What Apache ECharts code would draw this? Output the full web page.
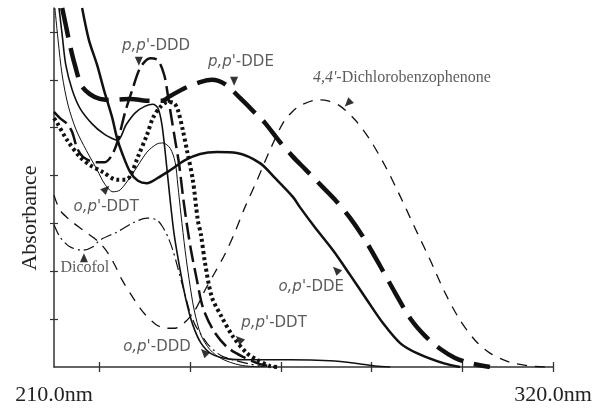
<!DOCTYPE html>
<html>
<head>
<meta charset="utf-8">
<script src="https://cdn.jsdelivr.net/npm/echarts@6/dist/echarts.min.js"></script>
<style>
html,body{margin:0;padding:0;background:#fff;}
#chart{width:608px;height:409px;}
</style>
</head>
<body>
<div id="chart"></div>
<script>
// Wavelength (nm) / absorbance pairs
const ppDDD = [[210.0,5.33],[211.3,5.20],[212.9,5.08],[214.0,4.91],[215.1,4.57],[216.4,4.39],[219.0,4.28],[221.2,4.28],[222.8,4.43],[224.1,4.74],[225.7,5.33],[227.4,5.83],[229.0,6.25],[231.2,6.45],[232.9,6.41],[234.3,6.10],[235.1,5.68],[235.8,5.26],[236.7,4.74],[237.6,4.22],[238.4,3.59],[239.3,2.97],[240.2,2.44],[241.5,1.82],[242.8,1.25],[245.1,0.77],[248.1,0.42],[251.7,0.21],[255.4,0.06],[258.7,0]];
const ppDDE = [[211.8,7.5],[212.6,7.14],[213.5,6.73],[214.6,6.31],[216.0,5.89],[217.9,5.70],[220.1,5.60],[222.3,5.58],[226.8,5.60],[231.2,5.56],[233.8,5.56],[235.6,5.66],[238.9,5.83],[242.2,5.95],[244.8,6.00],[247.7,5.91],[251.0,5.62],[254.3,5.31],[256.5,5.10],[259.8,4.70],[262.7,4.39],[265.3,4.14],[268.6,3.82],[272.0,3.49],[275.3,3.11],[278.6,2.65],[281.9,2.11],[285.2,1.55],[288.5,1.02],[291.8,0.65],[295.1,0.38],[298.4,0.19],[301.7,0.08],[306.1,0]];
const dcbp = [[210.0,3.59],[211.3,3.28],[213.5,3.07],[216.4,2.86],[219.9,2.61],[221.9,2.38],[223.4,2.13],[225.0,1.82],[227.2,1.48],[229.6,1.15],[232.3,0.90],[234.5,0.81],[236.7,0.81],[238.9,0.94],[241.1,1.19],[243.3,1.61],[245.5,1.98],[247.7,2.36],[249.9,2.82],[252.1,3.34],[254.8,3.91],[257.6,4.53],[260.5,5.10],[262.7,5.35],[264.9,5.49],[268.0,5.58],[270.4,5.56],[273.1,5.45],[276.4,5.16],[279.7,4.74],[283.0,4.20],[286.3,3.57],[289.6,2.90],[292.9,2.24],[296.2,1.55],[299.5,0.98],[302.8,0.56],[306.1,0.29],[310.5,0.10],[314.9,0.02],[318.2,0]];
const opDDT = [[210.2,7.5],[210.9,6.83],[211.8,6.10],[213.1,5.47],[214.9,4.95],[217.1,4.53],[219.5,4.12],[221.2,3.82],[223.0,3.66],[224.6,3.70],[227.4,4.05],[230.5,4.49],[232.7,4.66],[234.0,4.68],[235.6,4.57],[236.7,4.28],[237.3,3.80],[238.0,3.18],[238.9,2.44],[239.8,1.82],[240.9,1.19],[242.4,0.67],[244.4,0.36],[247.0,0.17],[251.0,0.04],[255.4,0]];
const dicofol = [[210.0,2.97],[211.3,2.72],[213.5,2.51],[216.4,2.44],[218.6,2.51],[220.1,2.65],[223.9,2.82],[227.4,3.01],[230.5,3.11],[232.7,3.07],[234.0,2.92],[235.1,2.72],[236.2,2.44],[237.3,2.07],[238.2,1.75],[239.1,1.44],[240.0,1.13],[241.1,0.88],[242.2,0.71],[243.7,0.50],[245.1,0.36],[247.0,0.23],[249.5,0.15],[253.2,0.06],[256.5,0]];
const opDDE = [[216.2,7.50],[217.7,6.83],[219.5,6.31],[221.0,5.79],[222.8,5.22],[223.9,4.78],[225.0,4.47],[226.8,4.07],[228.5,3.89],[230.5,3.84],[232.9,3.95],[235.6,4.11],[238.9,4.32],[242.2,4.45],[245.9,4.49],[250.3,4.47],[255.4,4.26],[258.7,3.95],[262.7,3.55],[264.2,3.34],[267.5,2.92],[271.5,2.44],[275.3,1.92],[279.0,1.40],[282.5,0.92],[286.3,0.50],[290.0,0.29],[295.8,0.08],[299.5,0.0]];
const ppDDT = [[210.0,5.20],[210.7,5.10],[212.9,4.74],[215.7,4.39],[217.9,4.22],[220.8,4.07],[223.9,3.91],[225.7,3.91],[226.8,3.99],[228.5,4.39],[230.5,4.85],[231.8,5.20],[233.4,5.43],[235.1,5.54],[236.5,5.51],[237.3,5.37],[238.4,4.95],[239.3,4.53],[240.6,3.91],[241.7,3.07],[242.4,2.76],[243.3,2.17],[244.8,1.46],[247.0,1.04],[249.5,0.63],[252.5,0.29],[254.8,0.15],[257.6,0.02],[259.8,0]];
const opDDD = [[211.1,7.5],[211.8,6.94],[212.6,6.31],[214.0,5.79],[215.7,5.41],[218.4,5.08],[221.0,4.87],[223.2,4.76],[224.1,4.74],[225.9,5.06],[227.9,5.31],[230.1,5.45],[231.8,5.49],[232.9,5.41],[233.8,5.06],[234.7,4.32],[235.6,3.49],[236.5,2.76],[237.8,2.03],[239.1,1.40],[240.6,0.88],[242.4,0.50],[244.8,0.27],[248.4,0.17],[253.2,0.15],[262.0,0.15],[270.8,0.13],[276.4,0.08],[280.8,0.02],[284.1,0]];

// Annotation labels (text anchor in nm / absorbance)
const labelNames = ["p,p'-DDD", "p,p'-DDE", "4,4'-Dichlorobenzophenone", "o,p'-DDT", "Dicofol", "o,p'-DDE", "p,p'-DDT", "o,p'-DDD"];
const labelNm = [232.5, 251.2, 286.7, 221.5, 216.8, 266.7, 258.5, 232.7];
const labelAbs = [6.71, 6.37, 6.04, 3.34, 2.07, 1.67, 0.92, 0.42];
// Arrow-head triangles (nm / absorbance)
const arrowNm = [228.7, 249.7, 274.8, 221.5, 216.6, 272.2, 250.8, 243.1];
const arrowAbs = [6.39, 5.97, 5.51, 3.72, 2.28, 2.03, 0.58, 0.31];
const arrowRotate = [180, 180, 135, -45, 0, 45, 45, 45];

const xTicks = [220, 240, 260, 280, 300, 320];
const xTickLabels = [210, 320];
const yTicks = [1, 2, 3, 4, 5, 6, 7];

const chart = echarts.init(document.getElementById('chart'), null, {renderer: 'canvas'});
const INK = '#111';
const AX = '#333';

function lineSeries(name, data, width, type) {
  return {
    name: name, type: 'line', data: data, smooth: 0.3, showSymbol: false, symbol: 'none',
    clip: true, z: 3,
    lineStyle: {color: INK, width: width, type: type, cap: 'butt', join: 'round'}
  };
}

const serifFont = '"Liberation Serif", "DejaVu Serif", serif';
const sansFont = '"DejaVu Sans", "Liberation Sans", sans-serif';

const labelData = labelNames.map((n, i) => {
  const serif = (n === 'Dicofol' || n.indexOf('Dichloro') >= 0);
  return {value: [labelNm[i], labelAbs[i]], name: n, serif: serif};
});

const option = {
  animation: false,
  backgroundColor: '#fff',
  grid: {left: 54, right: 55, top: 8, bottom: 42, containLabel: false},
  xAxis: [
    {
      type: 'value', min: 210, max: 320, position: 'bottom',
      axisLine: {show: true, onZero: false, lineStyle: {color: AX, width: 1.5}},
      axisTick: {show: true, inside: true, length: 5, customValues: xTicks, lineStyle: {color: AX, width: 1.3}},
      axisLabel: {show: true, customValues: xTickLabels, margin: 17,
        formatter: v => v.toFixed(1) + 'nm',
        fontFamily: serifFont, fontSize: 22, color: '#222'},
      splitLine: {show: false}
    },
    {
      type: 'value', min: 210, max: 320, position: 'bottom',
      axisLine: {show: false, onZero: false},
      axisTick: {show: true, inside: false, length: 5, customValues: xTicks, lineStyle: {color: AX, width: 1.3}},
      axisLabel: {show: false},
      splitLine: {show: false}
    }
  ],
  yAxis: [
    {
      type: 'value', min: 0, max: 7.5, position: 'left',
      axisLine: {show: true, onZero: false, lineStyle: {color: AX, width: 1.5}},
      axisTick: {show: true, inside: true, length: 4, customValues: yTicks, lineStyle: {color: AX, width: 1.2}},
      axisLabel: {show: false},
      splitLine: {show: false}
    },
    {
      type: 'value', min: 0, max: 7.5, position: 'left',
      axisLine: {show: false, onZero: false},
      axisTick: {show: true, inside: false, length: 4, customValues: yTicks, lineStyle: {color: AX, width: 1.2}},
      axisLabel: {show: false},
      splitLine: {show: false}
    }
  ],
  graphic: [
    {type: 'text', x: 30, y: 218, rotation: Math.PI / 2,
     style: {text: 'Absorbance', font: '22px "Liberation Serif", serif', fill: '#222',
             textAlign: 'center', textVerticalAlign: 'middle'}}
  ],
  series: [
    lineSeries("p,p'-DDE", ppDDE, 4.5, [30, 11]),
    lineSeries("p,p'-DDD", ppDDD, 2.5, [17, 6]),
    lineSeries("4,4'-Dichlorobenzophenone", dcbp, 1.3, [10, 8]),
    lineSeries("o,p'-DDT", opDDT, 1.0, 'solid'),
    lineSeries('Dicofol', dicofol, 1.2, [11, 4, 2, 4]),
    lineSeries("o,p'-DDE", opDDE, 2.5, 'solid'),
    lineSeries("p,p'-DDT", ppDDT, 4, [3, 3]),
    lineSeries("o,p'-DDD", opDDD, 1.6, 'solid'),
    {
      name: 'arrows', type: 'scatter', z: 5, symbol: 'triangle', symbolSize: [8, 9],
      data: arrowNm.map((x, i) => ({value: [x, arrowAbs[i]], symbolRotate: arrowRotate[i]})),
      itemStyle: {color: '#000'}
    },
    {
      name: 'labels', type: 'scatter', z: 6, symbolSize: 1,
      itemStyle: {color: 'rgba(255,255,255,0)'},
      data: labelData,
      label: {
        show: true, position: 'inside', color: '#333',
        formatter: p => {
          const n = p.name;
          const serif = p.data.serif;
          const k = n.indexOf("'");
          if (k > 0) {
            const head = n.slice(0, k + 1);
            const tail = n.slice(k + 1);
            return serif ? '{si|' + head + '}{s|' + tail + '}' : '{i|' + head + '}{n|' + tail + '}';
          }
          return serif ? '{s|' + n + '}' : '{n|' + n + '}';
        },
        rich: {
          i: {fontFamily: sansFont, fontStyle: 'italic', fontSize: 15, color: '#333'},
          n: {fontFamily: sansFont, fontSize: 15, color: '#333'},
          si: {fontFamily: serifFont, fontStyle: 'italic', fontSize: 16, color: '#333'},
          s: {fontFamily: serifFont, fontSize: 16, color: '#333'}
        }
      }
    }
  ]
};
chart.setOption(option);
</script>
</body>
</html>
